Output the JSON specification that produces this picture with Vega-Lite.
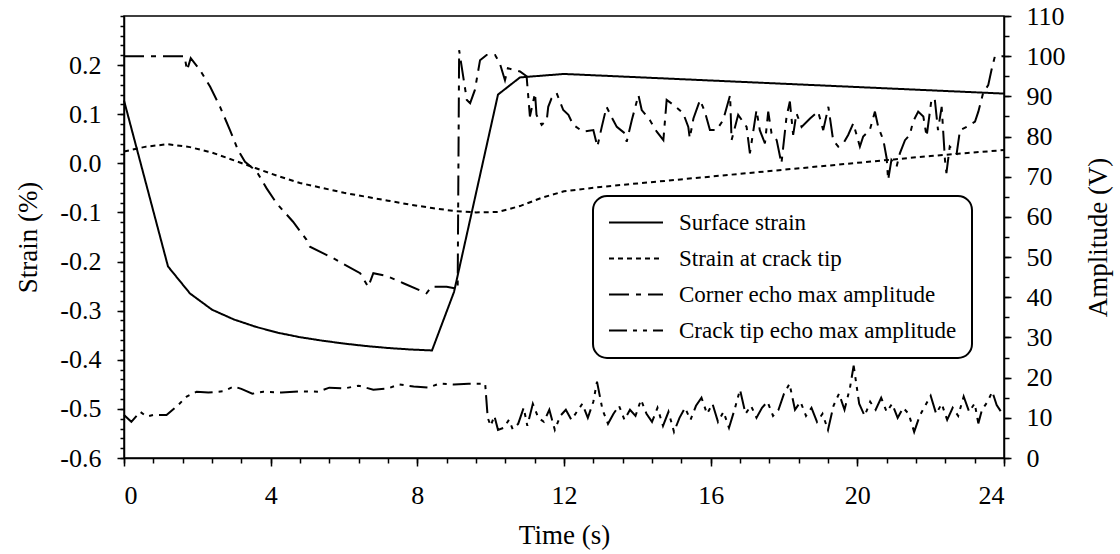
{
"$schema": "https://vega.github.io/schema/vega-lite/v6.json",
"width": 880, "height": 442,
"autosize": {"type": "none"},
"padding": {"left": 124, "top": 16, "right": 116, "bottom": 96},
"background": "white",
"datasets": {
"strain": [
{"time":0,"value":0.128,"series":"Surface strain"},
{"time":1.2,"value":-0.21,"series":"Surface strain"},
{"time":1.8,"value":-0.265,"series":"Surface strain"},
{"time":2.4,"value":-0.298,"series":"Surface strain"},
{"time":3.0,"value":-0.318,"series":"Surface strain"},
{"time":3.6,"value":-0.333,"series":"Surface strain"},
{"time":4.2,"value":-0.345,"series":"Surface strain"},
{"time":4.8,"value":-0.354,"series":"Surface strain"},
{"time":5.4,"value":-0.361,"series":"Surface strain"},
{"time":6.0,"value":-0.367,"series":"Surface strain"},
{"time":6.6,"value":-0.372,"series":"Surface strain"},
{"time":7.2,"value":-0.376,"series":"Surface strain"},
{"time":7.8,"value":-0.379,"series":"Surface strain"},
{"time":8.4,"value":-0.381,"series":"Surface strain"},
{"time":9.0,"value":-0.262,"series":"Surface strain"},
{"time":10.2,"value":0.14,"series":"Surface strain"},
{"time":10.8,"value":0.175,"series":"Surface strain"},
{"time":12.0,"value":0.182,"series":"Surface strain"},
{"time":24.0,"value":0.142,"series":"Surface strain"},
{"time":0,"value":0.024,"series":"Strain at crack tip"},
{"time":0.6,"value":0.034,"series":"Strain at crack tip"},
{"time":1.2,"value":0.039,"series":"Strain at crack tip"},
{"time":1.8,"value":0.033,"series":"Strain at crack tip"},
{"time":2.4,"value":0.022,"series":"Strain at crack tip"},
{"time":3.0,"value":0.006,"series":"Strain at crack tip"},
{"time":3.6,"value":-0.01,"series":"Strain at crack tip"},
{"time":4.2,"value":-0.026,"series":"Strain at crack tip"},
{"time":4.8,"value":-0.04,"series":"Strain at crack tip"},
{"time":5.4,"value":-0.05,"series":"Strain at crack tip"},
{"time":6.0,"value":-0.06,"series":"Strain at crack tip"},
{"time":6.6,"value":-0.068,"series":"Strain at crack tip"},
{"time":7.2,"value":-0.076,"series":"Strain at crack tip"},
{"time":7.8,"value":-0.084,"series":"Strain at crack tip"},
{"time":8.4,"value":-0.091,"series":"Strain at crack tip"},
{"time":9.0,"value":-0.097,"series":"Strain at crack tip"},
{"time":9.6,"value":-0.1,"series":"Strain at crack tip"},
{"time":10.2,"value":-0.099,"series":"Strain at crack tip"},
{"time":10.8,"value":-0.087,"series":"Strain at crack tip"},
{"time":11.4,"value":-0.07,"series":"Strain at crack tip"},
{"time":12.0,"value":-0.057,"series":"Strain at crack tip"},
{"time":13.0,"value":-0.048,"series":"Strain at crack tip"},
{"time":14.0,"value":-0.041,"series":"Strain at crack tip"},
{"time":15.0,"value":-0.034,"series":"Strain at crack tip"},
{"time":16.0,"value":-0.027,"series":"Strain at crack tip"},
{"time":17.0,"value":-0.02,"series":"Strain at crack tip"},
{"time":18.0,"value":-0.013,"series":"Strain at crack tip"},
{"time":19.0,"value":-0.006,"series":"Strain at crack tip"},
{"time":20.0,"value":0.001,"series":"Strain at crack tip"},
{"time":21.0,"value":0.008,"series":"Strain at crack tip"},
{"time":22.0,"value":0.015,"series":"Strain at crack tip"},
{"time":23.0,"value":0.021,"series":"Strain at crack tip"},
{"time":24.0,"value":0.027,"series":"Strain at crack tip"}
],
"amp": [
{"time":0,"value":100,"series":"Corner echo max amplitude"},
{"time":1.65,"value":100,"series":"Corner echo max amplitude"},
{"time":1.72,"value":96.5,"series":"Corner echo max amplitude"},
{"time":1.82,"value":99.5,"series":"Corner echo max amplitude"},
{"time":2.07,"value":96.6,"series":"Corner echo max amplitude"},
{"time":2.35,"value":92.4,"series":"Corner echo max amplitude"},
{"time":2.62,"value":87.4,"series":"Corner echo max amplitude"},
{"time":2.89,"value":81.6,"series":"Corner echo max amplitude"},
{"time":3.11,"value":76.6,"series":"Corner echo max amplitude"},
{"time":3.3,"value":73.7,"series":"Corner echo max amplitude"},
{"time":3.62,"value":71.3,"series":"Corner echo max amplitude"},
{"time":3.89,"value":67.1,"series":"Corner echo max amplitude"},
{"time":4.16,"value":63.4,"series":"Corner echo max amplitude"},
{"time":4.61,"value":58.8,"series":"Corner echo max amplitude"},
{"time":4.98,"value":54.3,"series":"Corner echo max amplitude"},
{"time":5.07,"value":52.6,"series":"Corner echo max amplitude"},
{"time":5.71,"value":49.7,"series":"Corner echo max amplitude"},
{"time":6.44,"value":46,"series":"Corner echo max amplitude"},
{"time":6.66,"value":42.6,"series":"Corner echo max amplitude"},
{"time":6.8,"value":46,"series":"Corner echo max amplitude"},
{"time":7.16,"value":45.3,"series":"Corner echo max amplitude"},
{"time":7.62,"value":43.5,"series":"Corner echo max amplitude"},
{"time":8.25,"value":41,"series":"Corner echo max amplitude"},
{"time":8.39,"value":42.6,"series":"Corner echo max amplitude"},
{"time":8.8,"value":42.6,"series":"Corner echo max amplitude"},
{"time":9.03,"value":42.2,"series":"Corner echo max amplitude"},
{"time":9.1,"value":42,"series":"Corner echo max amplitude"},
{"time":9.14,"value":101.5,"series":"Corner echo max amplitude"},
{"time":9.35,"value":89.1,"series":"Corner echo max amplitude"},
{"time":9.44,"value":88.3,"series":"Corner echo max amplitude"},
{"time":9.57,"value":91.6,"series":"Corner echo max amplitude"},
{"time":9.71,"value":99,"series":"Corner echo max amplitude"},
{"time":9.89,"value":100.3,"series":"Corner echo max amplitude"},
{"time":10.12,"value":100.3,"series":"Corner echo max amplitude"},
{"time":10.25,"value":98.2,"series":"Corner echo max amplitude"},
{"time":10.39,"value":94,"series":"Corner echo max amplitude"},
{"time":10.47,"value":97,"series":"Corner echo max amplitude"},
{"time":10.8,"value":96.2,"series":"Corner echo max amplitude"},
{"time":10.98,"value":95,"series":"Corner echo max amplitude"},
{"time":11.07,"value":85,"series":"Corner echo max amplitude"},
{"time":11.21,"value":90.8,"series":"Corner echo max amplitude"},
{"time":11.25,"value":85.4,"series":"Corner echo max amplitude"},
{"time":11.39,"value":82.9,"series":"Corner echo max amplitude"},
{"time":11.53,"value":84.1,"series":"Corner echo max amplitude"},
{"time":11.57,"value":87.4,"series":"Corner echo max amplitude"},
{"time":11.66,"value":89.5,"series":"Corner echo max amplitude"},
{"time":11.8,"value":90.8,"series":"Corner echo max amplitude"},
{"time":11.98,"value":86.6,"series":"Corner echo max amplitude"},
{"time":12.12,"value":85.4,"series":"Corner echo max amplitude"},
{"time":12.25,"value":82.9,"series":"Corner echo max amplitude"},
{"time":12.52,"value":81.2,"series":"Corner echo max amplitude"},
{"time":12.8,"value":81.6,"series":"Corner echo max amplitude"},
{"time":12.91,"value":77.5,"series":"Corner echo max amplitude"},
{"time":13.03,"value":82.4,"series":"Corner echo max amplitude"},
{"time":13.16,"value":87.4,"series":"Corner echo max amplitude"},
{"time":13.34,"value":84.1,"series":"Corner echo max amplitude"},
{"time":13.44,"value":82.4,"series":"Corner echo max amplitude"},
{"time":13.66,"value":80.8,"series":"Corner echo max amplitude"},
{"time":13.71,"value":78.7,"series":"Corner echo max amplitude"},
{"time":13.85,"value":84.1,"series":"Corner echo max amplitude"},
{"time":14.03,"value":90.3,"series":"Corner echo max amplitude"},
{"time":14.12,"value":86.6,"series":"Corner echo max amplitude"},
{"time":14.34,"value":84.1,"series":"Corner echo max amplitude"},
{"time":14.53,"value":81.2,"series":"Corner echo max amplitude"},
{"time":14.71,"value":79.1,"series":"Corner echo max amplitude"},
{"time":14.8,"value":89.1,"series":"Corner echo max amplitude"},
{"time":14.98,"value":87.9,"series":"Corner echo max amplitude"},
{"time":15.25,"value":85.8,"series":"Corner echo max amplitude"},
{"time":15.39,"value":82.4,"series":"Corner echo max amplitude"},
{"time":15.43,"value":79.6,"series":"Corner echo max amplitude"},
{"time":15.53,"value":84.5,"series":"Corner echo max amplitude"},
{"time":15.71,"value":89.1,"series":"Corner echo max amplitude"},
{"time":15.84,"value":86.2,"series":"Corner echo max amplitude"},
{"time":15.98,"value":81.6,"series":"Corner echo max amplitude"},
{"time":16.16,"value":81.6,"series":"Corner echo max amplitude"},
{"time":16.34,"value":84.1,"series":"Corner echo max amplitude"},
{"time":16.53,"value":90.3,"series":"Corner echo max amplitude"},
{"time":16.57,"value":79.1,"series":"Corner echo max amplitude"},
{"time":16.75,"value":85.4,"series":"Corner echo max amplitude"},
{"time":16.98,"value":82.4,"series":"Corner echo max amplitude"},
{"time":17.07,"value":75.8,"series":"Corner echo max amplitude"},
{"time":17.25,"value":86.6,"series":"Corner echo max amplitude"},
{"time":17.34,"value":81.6,"series":"Corner echo max amplitude"},
{"time":17.48,"value":78.3,"series":"Corner echo max amplitude"},
{"time":17.57,"value":86.2,"series":"Corner echo max amplitude"},
{"time":17.66,"value":80.8,"series":"Corner echo max amplitude"},
{"time":17.8,"value":79.1,"series":"Corner echo max amplitude"},
{"time":17.93,"value":73.3,"series":"Corner echo max amplitude"},
{"time":18.07,"value":85,"series":"Corner echo max amplitude"},
{"time":18.16,"value":88.7,"series":"Corner echo max amplitude"},
{"time":18.25,"value":80.4,"series":"Corner echo max amplitude"},
{"time":18.34,"value":85.8,"series":"Corner echo max amplitude"},
{"time":18.48,"value":82.4,"series":"Corner echo max amplitude"},
{"time":18.71,"value":84.5,"series":"Corner echo max amplitude"},
{"time":18.93,"value":86.2,"series":"Corner echo max amplitude"},
{"time":19.07,"value":81.6,"series":"Corner echo max amplitude"},
{"time":19.21,"value":87.4,"series":"Corner echo max amplitude"},
{"time":19.34,"value":79.1,"series":"Corner echo max amplitude"},
{"time":19.48,"value":77.5,"series":"Corner echo max amplitude"},
{"time":19.62,"value":78.3,"series":"Corner echo max amplitude"},
{"time":19.75,"value":80.4,"series":"Corner echo max amplitude"},
{"time":19.89,"value":83.3,"series":"Corner echo max amplitude"},
{"time":20.07,"value":77.5,"series":"Corner echo max amplitude"},
{"time":20.16,"value":80,"series":"Corner echo max amplitude"},
{"time":20.34,"value":81.6,"series":"Corner echo max amplitude"},
{"time":20.48,"value":86.2,"series":"Corner echo max amplitude"},
{"time":20.57,"value":82.4,"series":"Corner echo max amplitude"},
{"time":20.71,"value":79.1,"series":"Corner echo max amplitude"},
{"time":20.8,"value":74.6,"series":"Corner echo max amplitude"},
{"time":20.84,"value":69.2,"series":"Corner echo max amplitude"},
{"time":20.93,"value":74.2,"series":"Corner echo max amplitude"},
{"time":21.07,"value":72.5,"series":"Corner echo max amplitude"},
{"time":21.16,"value":75.8,"series":"Corner echo max amplitude"},
{"time":21.3,"value":79.1,"series":"Corner echo max amplitude"},
{"time":21.43,"value":80.4,"series":"Corner echo max amplitude"},
{"time":21.52,"value":83.7,"series":"Corner echo max amplitude"},
{"time":21.66,"value":86.2,"series":"Corner echo max amplitude"},
{"time":21.8,"value":85,"series":"Corner echo max amplitude"},
{"time":21.89,"value":80,"series":"Corner echo max amplitude"},
{"time":22.02,"value":89.1,"series":"Corner echo max amplitude"},
{"time":22.11,"value":89.5,"series":"Corner echo max amplitude"},
{"time":22.2,"value":81.6,"series":"Corner echo max amplitude"},
{"time":22.3,"value":87.4,"series":"Corner echo max amplitude"},
{"time":22.39,"value":74.2,"series":"Corner echo max amplitude"},
{"time":22.43,"value":70.9,"series":"Corner echo max amplitude"},
{"time":22.52,"value":77.5,"series":"Corner echo max amplitude"},
{"time":22.71,"value":75.8,"series":"Corner echo max amplitude"},
{"time":22.8,"value":81.6,"series":"Corner echo max amplitude"},
{"time":22.98,"value":82.4,"series":"Corner echo max amplitude"},
{"time":23.21,"value":83.7,"series":"Corner echo max amplitude"},
{"time":23.3,"value":86.2,"series":"Corner echo max amplitude"},
{"time":23.43,"value":90.8,"series":"Corner echo max amplitude"},
{"time":23.57,"value":92.8,"series":"Corner echo max amplitude"},
{"time":23.66,"value":96.6,"series":"Corner echo max amplitude"},
{"time":23.75,"value":99.9,"series":"Corner echo max amplitude"},
{"time":24,"value":100,"series":"Corner echo max amplitude"},
{"time":0,"value":10.7,"series":"Crack tip echo max amplitude"},
{"time":0.2,"value":9,"series":"Crack tip echo max amplitude"},
{"time":0.44,"value":11.5,"series":"Crack tip echo max amplitude"},
{"time":0.62,"value":10.3,"series":"Crack tip echo max amplitude"},
{"time":0.8,"value":10.7,"series":"Crack tip echo max amplitude"},
{"time":1.16,"value":10.7,"series":"Crack tip echo max amplitude"},
{"time":1.48,"value":13.2,"series":"Crack tip echo max amplitude"},
{"time":1.71,"value":15.3,"series":"Crack tip echo max amplitude"},
{"time":1.98,"value":16.5,"series":"Crack tip echo max amplitude"},
{"time":2.3,"value":16.3,"series":"Crack tip echo max amplitude"},
{"time":2.7,"value":16.6,"series":"Crack tip echo max amplitude"},
{"time":3.0,"value":17.8,"series":"Crack tip echo max amplitude"},
{"time":3.2,"value":17.2,"series":"Crack tip echo max amplitude"},
{"time":3.5,"value":16.0,"series":"Crack tip echo max amplitude"},
{"time":3.8,"value":16.5,"series":"Crack tip echo max amplitude"},
{"time":4.3,"value":16.3,"series":"Crack tip echo max amplitude"},
{"time":4.8,"value":16.6,"series":"Crack tip echo max amplitude"},
{"time":5.3,"value":16.5,"series":"Crack tip echo max amplitude"},
{"time":5.6,"value":17.5,"series":"Crack tip echo max amplitude"},
{"time":6.0,"value":17.3,"series":"Crack tip echo max amplitude"},
{"time":6.4,"value":18.0,"series":"Crack tip echo max amplitude"},
{"time":6.8,"value":17.0,"series":"Crack tip echo max amplitude"},
{"time":7.2,"value":17.3,"series":"Crack tip echo max amplitude"},
{"time":7.5,"value":18.3,"series":"Crack tip echo max amplitude"},
{"time":7.9,"value":17.8,"series":"Crack tip echo max amplitude"},
{"time":8.3,"value":17.5,"series":"Crack tip echo max amplitude"},
{"time":8.6,"value":18.5,"series":"Crack tip echo max amplitude"},
{"time":9.0,"value":18.3,"series":"Crack tip echo max amplitude"},
{"time":9.4,"value":18.5,"series":"Crack tip echo max amplitude"},
{"time":9.85,"value":18.5,"series":"Crack tip echo max amplitude"},
{"time":9.92,"value":10,"series":"Crack tip echo max amplitude"},
{"time":10.0,"value":8.0,"series":"Crack tip echo max amplitude"},
{"time":10.1,"value":10.5,"series":"Crack tip echo max amplitude"},
{"time":10.2,"value":7.0,"series":"Crack tip echo max amplitude"},
{"time":10.35,"value":7.5,"series":"Crack tip echo max amplitude"},
{"time":10.5,"value":9.5,"series":"Crack tip echo max amplitude"},
{"time":10.6,"value":7.2,"series":"Crack tip echo max amplitude"},
{"time":10.75,"value":8.5,"series":"Crack tip echo max amplitude"},
{"time":10.9,"value":12.5,"series":"Crack tip echo max amplitude"},
{"time":11.0,"value":8.0,"series":"Crack tip echo max amplitude"},
{"time":11.15,"value":13.5,"series":"Crack tip echo max amplitude"},
{"time":11.3,"value":10.0,"series":"Crack tip echo max amplitude"},
{"time":11.45,"value":9.0,"series":"Crack tip echo max amplitude"},
{"time":11.6,"value":12.0,"series":"Crack tip echo max amplitude"},
{"time":11.75,"value":7.0,"series":"Crack tip echo max amplitude"},
{"time":11.9,"value":10.5,"series":"Crack tip echo max amplitude"},
{"time":12.05,"value":12.0,"series":"Crack tip echo max amplitude"},
{"time":12.2,"value":9.5,"series":"Crack tip echo max amplitude"},
{"time":12.35,"value":11.5,"series":"Crack tip echo max amplitude"},
{"time":12.5,"value":13.5,"series":"Crack tip echo max amplitude"},
{"time":12.65,"value":10.0,"series":"Crack tip echo max amplitude"},
{"time":12.8,"value":14.0,"series":"Crack tip echo max amplitude"},
{"time":12.9,"value":19.0,"series":"Crack tip echo max amplitude"},
{"time":13.05,"value":12.0,"series":"Crack tip echo max amplitude"},
{"time":13.2,"value":8.5,"series":"Crack tip echo max amplitude"},
{"time":13.35,"value":11.0,"series":"Crack tip echo max amplitude"},
{"time":13.5,"value":13.0,"series":"Crack tip echo max amplitude"},
{"time":13.65,"value":9.5,"series":"Crack tip echo max amplitude"},
{"time":13.8,"value":12.0,"series":"Crack tip echo max amplitude"},
{"time":13.95,"value":10.5,"series":"Crack tip echo max amplitude"},
{"time":14.1,"value":14.5,"series":"Crack tip echo max amplitude"},
{"time":14.25,"value":11.0,"series":"Crack tip echo max amplitude"},
{"time":14.4,"value":9.0,"series":"Crack tip echo max amplitude"},
{"time":14.55,"value":12.5,"series":"Crack tip echo max amplitude"},
{"time":14.7,"value":8.0,"series":"Crack tip echo max amplitude"},
{"time":14.85,"value":11.5,"series":"Crack tip echo max amplitude"},
{"time":15.0,"value":6.5,"series":"Crack tip echo max amplitude"},
{"time":15.15,"value":10.0,"series":"Crack tip echo max amplitude"},
{"time":15.3,"value":12.5,"series":"Crack tip echo max amplitude"},
{"time":15.45,"value":9.5,"series":"Crack tip echo max amplitude"},
{"time":15.6,"value":13.0,"series":"Crack tip echo max amplitude"},
{"time":15.75,"value":15.0,"series":"Crack tip echo max amplitude"},
{"time":15.9,"value":11.0,"series":"Crack tip echo max amplitude"},
{"time":16.05,"value":13.5,"series":"Crack tip echo max amplitude"},
{"time":16.2,"value":9.0,"series":"Crack tip echo max amplitude"},
{"time":16.35,"value":11.5,"series":"Crack tip echo max amplitude"},
{"time":16.5,"value":7.5,"series":"Crack tip echo max amplitude"},
{"time":16.65,"value":12.0,"series":"Crack tip echo max amplitude"},
{"time":16.8,"value":17.0,"series":"Crack tip echo max amplitude"},
{"time":16.95,"value":11.0,"series":"Crack tip echo max amplitude"},
{"time":17.1,"value":13.0,"series":"Crack tip echo max amplitude"},
{"time":17.25,"value":10.0,"series":"Crack tip echo max amplitude"},
{"time":17.4,"value":12.5,"series":"Crack tip echo max amplitude"},
{"time":17.55,"value":14.0,"series":"Crack tip echo max amplitude"},
{"time":17.7,"value":10.5,"series":"Crack tip echo max amplitude"},
{"time":17.85,"value":12.0,"series":"Crack tip echo max amplitude"},
{"time":18.0,"value":16.0,"series":"Crack tip echo max amplitude"},
{"time":18.15,"value":18.5,"series":"Crack tip echo max amplitude"},
{"time":18.3,"value":12.0,"series":"Crack tip echo max amplitude"},
{"time":18.45,"value":14.0,"series":"Crack tip echo max amplitude"},
{"time":18.6,"value":10.5,"series":"Crack tip echo max amplitude"},
{"time":18.75,"value":12.5,"series":"Crack tip echo max amplitude"},
{"time":18.9,"value":9.0,"series":"Crack tip echo max amplitude"},
{"time":19.05,"value":11.0,"series":"Crack tip echo max amplitude"},
{"time":19.2,"value":7.0,"series":"Crack tip echo max amplitude"},
{"time":19.35,"value":13.0,"series":"Crack tip echo max amplitude"},
{"time":19.5,"value":16.0,"series":"Crack tip echo max amplitude"},
{"time":19.65,"value":12.0,"series":"Crack tip echo max amplitude"},
{"time":19.8,"value":17.5,"series":"Crack tip echo max amplitude"},
{"time":19.9,"value":23.0,"series":"Crack tip echo max amplitude"},
{"time":20.05,"value":13.5,"series":"Crack tip echo max amplitude"},
{"time":20.2,"value":10.5,"series":"Crack tip echo max amplitude"},
{"time":20.35,"value":14.0,"series":"Crack tip echo max amplitude"},
{"time":20.5,"value":12.0,"series":"Crack tip echo max amplitude"},
{"time":20.65,"value":15.0,"series":"Crack tip echo max amplitude"},
{"time":20.8,"value":11.5,"series":"Crack tip echo max amplitude"},
{"time":20.95,"value":13.5,"series":"Crack tip echo max amplitude"},
{"time":21.1,"value":10.0,"series":"Crack tip echo max amplitude"},
{"time":21.25,"value":12.5,"series":"Crack tip echo max amplitude"},
{"time":21.4,"value":11.0,"series":"Crack tip echo max amplitude"},
{"time":21.55,"value":6.5,"series":"Crack tip echo max amplitude"},
{"time":21.7,"value":10.5,"series":"Crack tip echo max amplitude"},
{"time":21.85,"value":13.0,"series":"Crack tip echo max amplitude"},
{"time":22.0,"value":15.5,"series":"Crack tip echo max amplitude"},
{"time":22.15,"value":11.0,"series":"Crack tip echo max amplitude"},
{"time":22.3,"value":13.5,"series":"Crack tip echo max amplitude"},
{"time":22.45,"value":9.5,"series":"Crack tip echo max amplitude"},
{"time":22.6,"value":12.5,"series":"Crack tip echo max amplitude"},
{"time":22.75,"value":10.5,"series":"Crack tip echo max amplitude"},
{"time":22.9,"value":15.3,"series":"Crack tip echo max amplitude"},
{"time":23.05,"value":11.5,"series":"Crack tip echo max amplitude"},
{"time":23.2,"value":13.6,"series":"Crack tip echo max amplitude"},
{"time":23.3,"value":8.6,"series":"Crack tip echo max amplitude"},
{"time":23.4,"value":12.0,"series":"Crack tip echo max amplitude"},
{"time":23.55,"value":14.0,"series":"Crack tip echo max amplitude"},
{"time":23.68,"value":16.5,"series":"Crack tip echo max amplitude"},
{"time":23.8,"value":13.2,"series":"Crack tip echo max amplitude"},
{"time":23.95,"value":11.1,"series":"Crack tip echo max amplitude"},
{"time":24.0,"value":11.5,"series":"Crack tip echo max amplitude"}
]
},
"layer": [
{
"data": {"name": "strain"},
"mark": {"type": "line", "strokeWidth": 2, "color": "black"},
"encoding": {
"x": {"field": "time", "type": "quantitative", "scale": {"domain": [0, 24], "nice": false, "zero": false},
"axis": {"orient": "bottom", "values": [0,4,8,12,16,20,24], "tickSize": 8, "labelPadding": 16, "title": "Time (s)", "titlePadding": 14, "format": "d"}},
"y": {"field": "value", "type": "quantitative", "scale": {"domain": [-0.6, 0.3], "nice": false, "zero": false},
"axis": {"orient": "left", "values": [-0.6,-0.5,-0.4,-0.3,-0.2,-0.1,0,0.1,0.2], "tickSize": 7, "labelPadding": 16, "labelExpr": "datum.value < 0 ? '-' + format(-datum.value, '.1f') : format(datum.value, '.1f')", "title": "Strain (%)", "titlePadding": 17}},
"strokeDash": {"field": "series", "type": "nominal",
"scale": {"domain": ["Surface strain","Strain at crack tip","Corner echo max amplitude","Crack tip echo max amplitude"], "range": [[1,0],[5,4],[20,7,5,7],[18,6,4,6,4,6]]},
"legend": {"title": null, "orient": "none", "legendX": 469, "legendY": 180, "labelExpr": "datum.label + '\u00a0\u00a0\u00a0\u00a0'"}}
}
},
{
"data": {"name": "amp"},
"mark": {"type": "line", "strokeWidth": 2, "color": "black"},
"encoding": {
"x": {"field": "time", "type": "quantitative", "scale": {"domain": [0, 24], "nice": false, "zero": false}, "axis": null},
"y": {"field": "value", "type": "quantitative", "scale": {"domain": [0, 110], "nice": false, "zero": false},
"axis": {"orient": "right", "values": [0,10,20,30,40,50,60,70,80,90,100,110], "tickSize": 7, "labelPadding": 15, "title": "Amplitude (V)", "titleAngle": 270, "titleBaseline": "top", "titlePadding": 20}},
"strokeDash": {"field": "series", "type": "nominal",
"scale": {"domain": ["Surface strain","Strain at crack tip","Corner echo max amplitude","Crack tip echo max amplitude"], "range": [[1,0],[5,4],[20,7,5,7],[18,6,4,6,4,6]]},
"legend": {"title": null, "orient": "none", "legendX": 469, "legendY": 180, "labelExpr": "datum.label + '\u00a0\u00a0\u00a0\u00a0'"}}
}
},
{
"data": {"name": "strain"},
"mark": {"type": "line", "opacity": 0},
"encoding": {
"x": {"field": "time", "type": "quantitative", "scale": {"domain": [0, 24], "nice": false, "zero": false},
"axis": {"orient": "bottom", "values": [0,0.8,1.6,2.4,3.2,4,4.8,5.6,6.4,7.2,8,8.8,9.6,10.4,11.2,12,12.8,13.6,14.4,15.2,16,16.8,17.6,18.4,19.2,20,20.8,21.6,22.4,23.2,24], "tickSize": 5, "labels": false, "domain": false, "title": null}},
"y": {"field": "value", "type": "quantitative", "scale": {"domain": [-0.6, 0.3], "nice": false, "zero": false},
"axis": {"orient": "left", "values": [-0.6,-0.58,-0.56,-0.54,-0.52,-0.5,-0.48,-0.46,-0.44,-0.42,-0.4,-0.38,-0.36,-0.34,-0.32,-0.3,-0.28,-0.26,-0.24,-0.22,-0.2,-0.18,-0.16,-0.14,-0.12,-0.1,-0.08,-0.06,-0.04,-0.02,0,0.02,0.04,0.06,0.08,0.1,0.12,0.14,0.16,0.18,0.2,0.22,0.24,0.26,0.28,0.3], "tickSize": 4, "labels": false, "domain": false, "title": null}}
}
},
{
"data": {"name": "amp"},
"mark": {"type": "line", "opacity": 0},
"encoding": {
"x": {"field": "time", "type": "quantitative", "scale": {"domain": [0, 24], "nice": false, "zero": false}, "axis": null},
"y": {"field": "value", "type": "quantitative", "scale": {"domain": [0, 110], "nice": false, "zero": false},
"axis": {"orient": "right", "values": [0,5,10,15,20,25,30,35,40,45,50,55,60,65,70,75,80,85,90,95,100,105,110], "tickSize": 5, "labels": false, "domain": false, "title": null}}
}
}
],
"resolve": {"scale": {"y": "independent"}, "axis": {"x": "independent", "y": "independent"}},
"config": {
"view": {"stroke": "black", "strokeWidth": 1.5},
"font": "Liberation Serif",
"axis": {"labelFont": "Liberation Serif", "titleFont": "Liberation Serif", "labelColor": "black", "titleColor": "black", "domainColor": "black", "tickColor": "black", "labelFontSize": 26, "titleFontSize": 27, "titleFontWeight": "normal", "grid": false, "domainWidth": 1.5, "tickWidth": 1.5},
"legend": {"symbolType": "stroke", "symbolSize": 2916, "symbolStrokeWidth": 2, "symbolStrokeColor": "black", "labelFont": "Liberation Serif", "labelFontSize": 23, "labelColor": "black", "labelOffset": 15, "labelLimit": 0, "clipHeight": 23, "rowPadding": 12, "padding": 15, "strokeColor": "black", "strokeWidth": 2, "cornerRadius": 14, "fillColor": "white"}
}
}
